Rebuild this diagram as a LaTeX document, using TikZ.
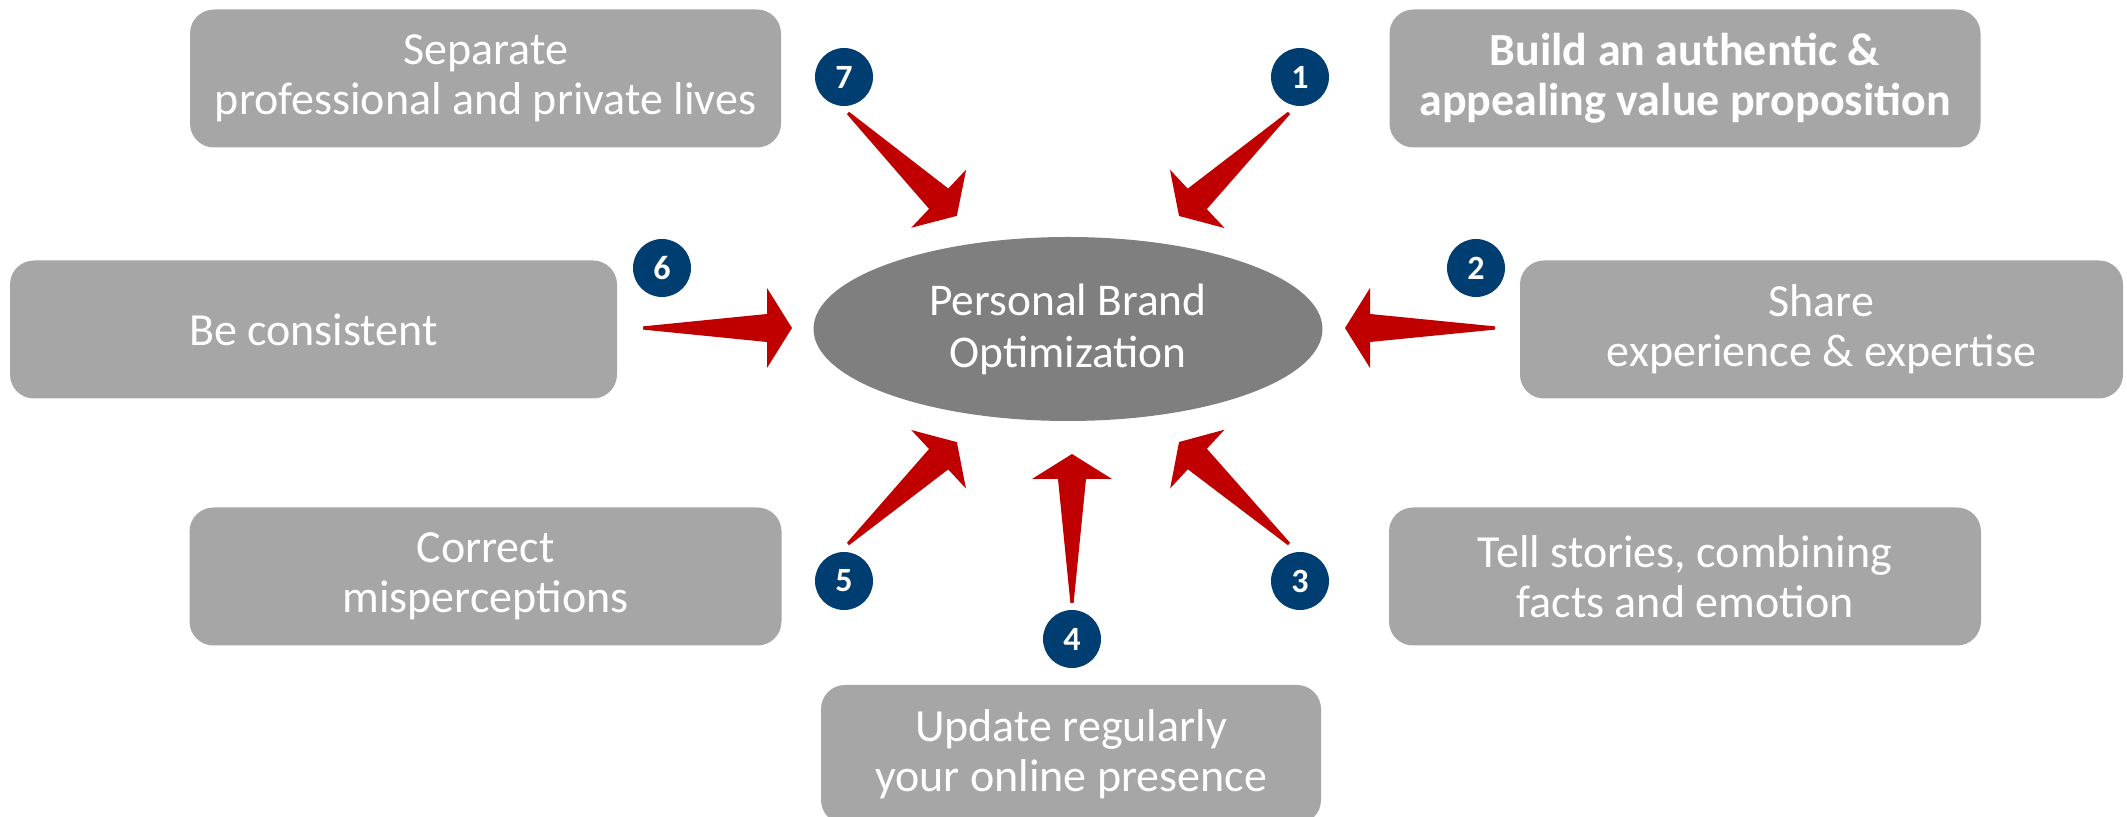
\documentclass[tikz,border=0pt]{standalone}
\usepackage{fontspec}
\setmainfont{Carlito}
\usetikzlibrary{calc,shapes.geometric}

\definecolor{boxgray}{RGB}{166,166,166}
\definecolor{ovalgray}{RGB}{127,127,127}
\definecolor{numblue}{RGB}{0,62,114}
\definecolor{arrowred}{RGB}{192,0,0}

\tikzset{
  idea/.style={fill=boxgray, rounded corners=12pt, text=white, align=center,
    inner sep=0pt, minimum height=69pt, font=\fontsize{23}{25}\selectfont},
  brand/.style={ellipse, fill=ovalgray, text=white, align=center, inner sep=0pt,
    minimum width=254.5pt, minimum height=92pt, font=\fontsize{22.7}{26}\selectfont},
  num/.style={circle, fill=numblue, text=white, inner sep=0pt, minimum size=29pt,
    font=\bfseries\fontsize{17}{17}\selectfont}
}

% tapered red arrow from #1 (tail) to #2 (tip)
\newcommand\pbarrow[2]{%
  \fill[arrowred, line join=round] let \p1=($(#2)-(#1)$), \n1={atan2(\y1,\x1)},
      \n2={veclen(\x1,\y1)}, \n3={veclen(\x1,\y1)-12.5} in
    [shift={(#1)}, rotate=\n1] (0pt,0.8pt) -- ({\n3*1pt},7pt) -- ({\n3*1pt},20pt)
    -- ({\n2*1pt},0pt) -- ({\n3*1pt},-20pt) -- ({\n3*1pt},-7pt) -- (0pt,-0.8pt) -- cycle;}

\begin{document}
\begin{tikzpicture}[x=0.5pt, y=-0.5pt]
    \useasboundingbox (0,0) rectangle (2127,817);
    \clip (0,0) rectangle (2127,817);

    % Centre
    \node[brand] (core) at (1068,329) {Personal Brand\\Optimization};

    % Levers
    \node[idea, minimum width=295.5pt, font=\bfseries\fontsize{23}{25}\selectfont] (b1) at (1685,78.5) {Build an authentic \&\\appealing value proposition};
    \node[idea, minimum width=301.5pt] (b2) at (1821.5,329.5) {Share\\experience \& expertise};
    \node[idea, minimum width=296pt] (b3) at (1685,576.5) {Tell stories, combining\\facts and emotion};
    \node[idea, minimum width=250pt, minimum height=69.5pt] (b4) at (1071,754.5) {Update regularly\\your online presence};
    \node[idea, minimum width=296pt] (b5) at (485.5,576.5) {Correct\\misperceptions};
    \node[idea, minimum width=303.5pt] (b6) at (313.5,329.5) {Be consistent};
    \node[idea, minimum width=295.5pt] (b7) at (485.5,78.5) {Separate\\professional and private lives};

    % Numbers
    \node[num] (n1) at (1300,77) {1};
    \node[num] (n2) at (1476,268) {2};
    \node[num] (n3) at (1300,581) {3};
    \node[num] (n4) at (1072,639) {4};
    \node[num] (n5) at (844,581) {5};
    \node[num] (n6) at (662,268) {6};
    \node[num] (n7) at (844,77) {7};

    % Arrows
    \coordinate (t1) at (1289,113);  \coordinate (p1) at (1179,216);
    \coordinate (t2) at (1495,328);  \coordinate (p2) at (1345,328);
    \coordinate (t3) at (1289,544);  \coordinate (p3) at (1179,442);
    \coordinate (t4) at (1072,603);  \coordinate (p4) at (1072,454);
    \coordinate (t5) at (848,544);   \coordinate (p5) at (957,442);
    \coordinate (t6) at (643,328);   \coordinate (p6) at (792,328);
    \coordinate (t7) at (848,113);   \coordinate (p7) at (957,216);
    \foreach \i in {1,...,7} {\pbarrow{t\i}{p\i}}
\end{tikzpicture}
\end{document}
